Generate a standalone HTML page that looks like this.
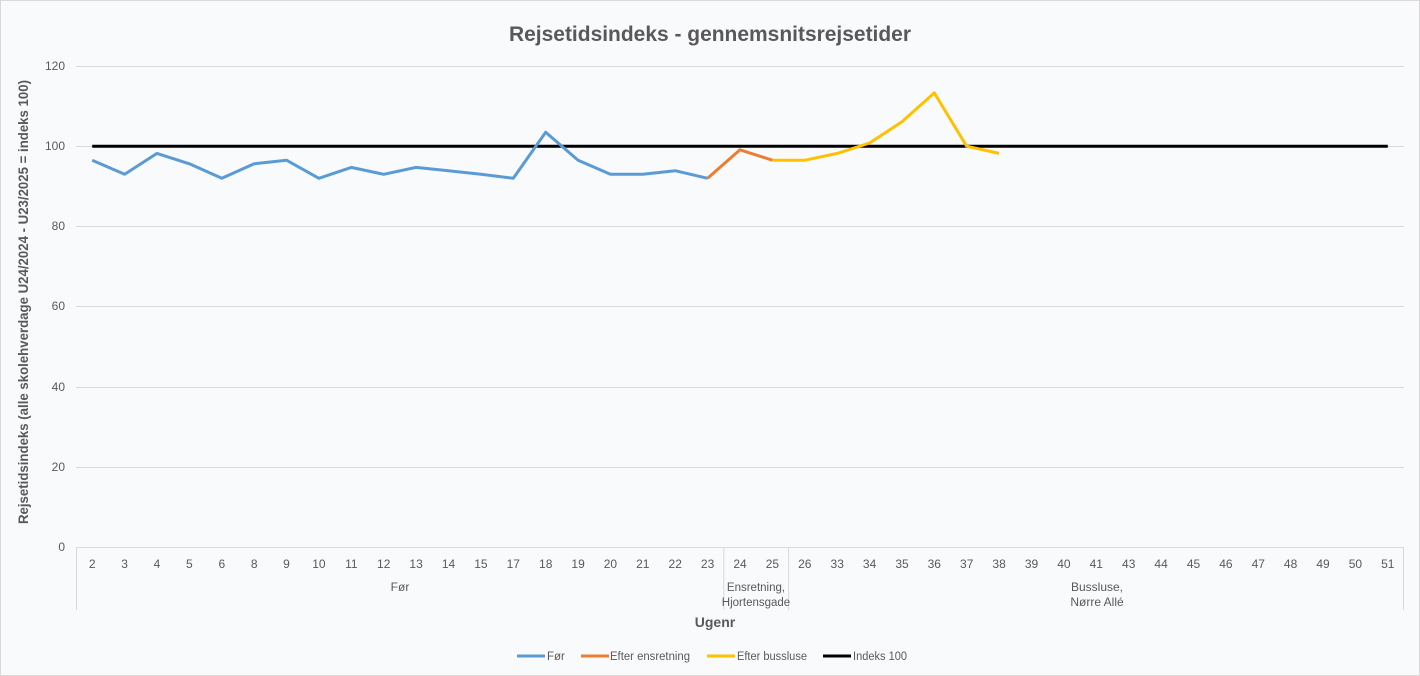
<!DOCTYPE html>
<html><head><meta charset="utf-8"><style>
body{margin:0;background:#fff}
svg{display:block;font-family:"Liberation Sans",sans-serif}
</style></head><body>
<svg width="1420" height="676" viewBox="0 0 1420 676">
<rect x="0.5" y="0.5" width="1419" height="675" fill="#f9fafc" stroke="#d9d9d9"/>
<text x="710" y="41" text-anchor="middle" font-size="21" font-weight="bold" fill="#595959" textLength="402" lengthAdjust="spacingAndGlyphs">Rejsetidsindeks - gennemsnitsrejsetider</text>
<g stroke="#d9d9d9" stroke-width="1">
<line x1="76" x2="1404" y1="66.5" y2="66.5"/><line x1="76" x2="1404" y1="146.5" y2="146.5"/>
<line x1="76" x2="1404" y1="226.5" y2="226.5"/><line x1="76" x2="1404" y1="306.5" y2="306.5"/>
<line x1="76" x2="1404" y1="387.5" y2="387.5"/><line x1="76" x2="1404" y1="467.5" y2="467.5"/>
<line x1="76" x2="1404" y1="547.5" y2="547.5"/>
<line x1="76.5" x2="76.5" y1="547" y2="610"/><line x1="723.8" x2="723.8" y1="547" y2="610"/>
<line x1="788.6" x2="788.6" y1="547" y2="610"/><line x1="1403.5" x2="1403.5" y1="547" y2="610"/>
</g>
<g font-size="12" fill="#595959" text-anchor="end">
<text x="65" y="70">120</text><text x="65" y="150">100</text><text x="65" y="230">80</text>
<text x="65" y="310">60</text><text x="65" y="391">40</text><text x="65" y="471">20</text><text x="65" y="551">0</text>
</g>
<text transform="translate(28,302) rotate(-90)" text-anchor="middle" font-size="14" font-weight="bold" fill="#595959" textLength="444" lengthAdjust="spacingAndGlyphs">Rejsetidsindeks (alle skolehverdage U24/2024 - U23/2025 = indeks 100)</text>
<g font-size="12" fill="#595959" text-anchor="middle">
<text x="92.2" y="568">2</text><text x="124.6" y="568">3</text><text x="157.0" y="568">4</text><text x="189.4" y="568">5</text>
<text x="221.8" y="568">6</text><text x="254.2" y="568">8</text><text x="286.5" y="568">9</text><text x="318.9" y="568">10</text>
<text x="351.3" y="568">11</text><text x="383.7" y="568">12</text><text x="416.1" y="568">13</text><text x="448.5" y="568">14</text>
<text x="480.9" y="568">15</text><text x="513.3" y="568">17</text><text x="545.7" y="568">18</text><text x="578.1" y="568">19</text>
<text x="610.4" y="568">20</text><text x="642.8" y="568">21</text><text x="675.2" y="568">22</text><text x="707.6" y="568">23</text>
<text x="740.0" y="568">24</text><text x="772.4" y="568">25</text><text x="804.8" y="568">26</text><text x="837.2" y="568">33</text>
<text x="869.6" y="568">34</text><text x="902.0" y="568">35</text><text x="934.3" y="568">36</text><text x="966.7" y="568">37</text>
<text x="999.1" y="568">38</text><text x="1031.5" y="568">39</text><text x="1063.9" y="568">40</text><text x="1096.3" y="568">41</text>
<text x="1128.7" y="568">43</text><text x="1161.1" y="568">44</text><text x="1193.5" y="568">45</text><text x="1225.9" y="568">46</text>
<text x="1258.3" y="568">47</text><text x="1290.6" y="568">48</text><text x="1323.0" y="568">49</text><text x="1355.4" y="568">50</text>
<text x="1387.8" y="568">51</text>
<text x="400" y="591">Før</text>
<text x="756" y="591" font-size="11.5">Ensretning,</text><text x="756" y="606" font-size="11.5">Hjortensgade</text>
<text x="1097" y="591">Bussluse,</text><text x="1097" y="606">Nørre Allé</text>
</g>
<text x="715" y="627" text-anchor="middle" font-size="14" font-weight="bold" fill="#595959">Ugenr</text>
<g fill="none" stroke-width="3" stroke-linejoin="round">
<polyline stroke="#000" points="92.2,146.2 1387.8,146.2"/>
<polyline stroke="#5b9bd5" points="92.2,160.2 124.6,174.3 157.0,153.4 189.4,163.8 221.8,178.3 254.2,163.8 286.5,160.2 318.9,178.3 351.3,167.4 383.7,174.3 416.1,167.4 448.5,170.7 480.9,174.3 513.3,178.3 545.7,132.2 578.1,160.2 610.4,174.3 642.8,174.3 675.2,170.7 707.6,178.3"/>
<polyline stroke="#ed7d31" points="707.6,178.3 740.0,149.8 772.4,160.2"/>
<polyline stroke="#ffc000" points="772.4,160.2 804.8,160.2 837.2,153.4 869.6,143.0 902.0,121.8 934.3,92.9 966.7,146.2 999.1,153.4"/>
</g>
<g font-size="11.5" fill="#595959">
<line x1="517" x2="545" y1="656" y2="656" stroke="#5b9bd5" stroke-width="3"/><text x="547" y="660">Før</text>
<line x1="581" x2="609" y1="656" y2="656" stroke="#ed7d31" stroke-width="3"/><text x="610" y="660" textLength="80" lengthAdjust="spacingAndGlyphs">Efter ensretning</text>
<line x1="707" x2="735" y1="656" y2="656" stroke="#ffc000" stroke-width="3"/><text x="737" y="660" textLength="70" lengthAdjust="spacingAndGlyphs">Efter bussluse</text>
<line x1="823" x2="851" y1="656" y2="656" stroke="#000" stroke-width="3"/><text x="853" y="660" textLength="54" lengthAdjust="spacingAndGlyphs">Indeks 100</text>
</g>
</svg>
</body></html>
